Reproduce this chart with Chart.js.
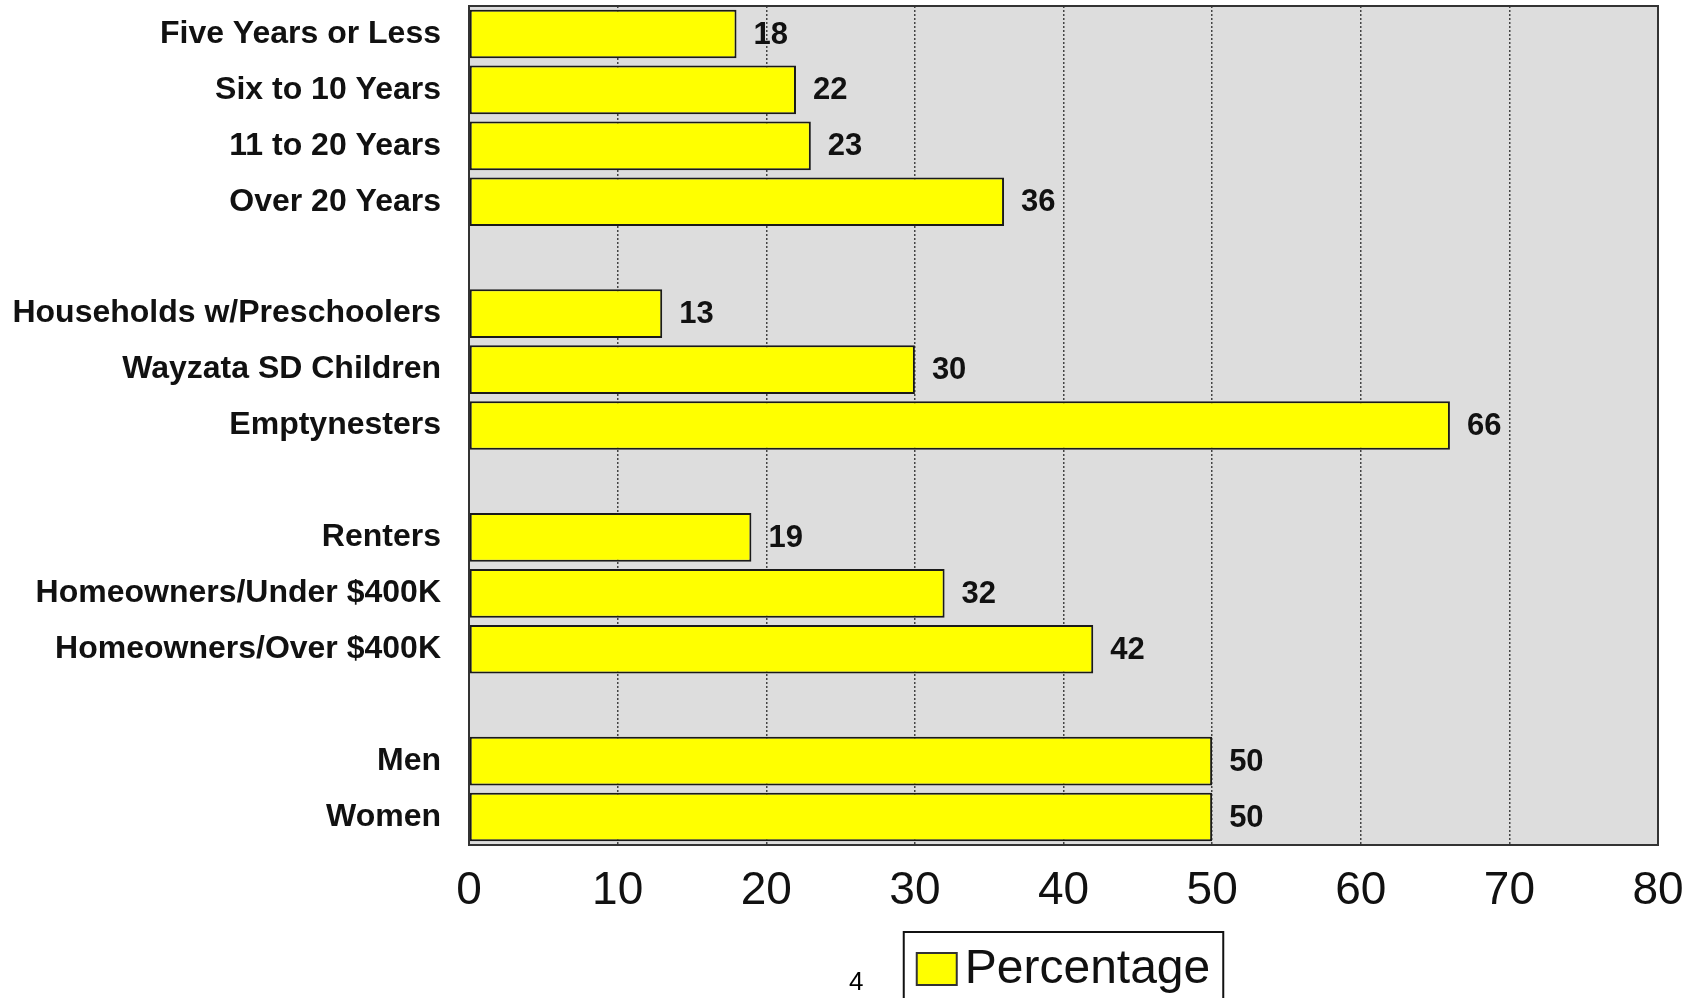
<!DOCTYPE html>
<html>
<head>
<meta charset="utf-8">
<script src="https://cdn.jsdelivr.net/npm/chart.js@4/dist/chart.umd.min.js"></script>
<style>
  body { margin: 0; background: #fff; }
  #wrap { position: relative; width: 1700px; height: 998px; }
  #page { position: absolute; left: 849px; top: 966px; font: 26px "Liberation Sans", Arial, sans-serif; color: #000; }
</style>
</head>
<body>
<div id="wrap">
  <canvas id="chart" width="1700" height="998"></canvas>
  <div id="page">4</div>
</div>
<script>
// categories, blank entries are the gaps between groups
const categories = [
    "Five Years or Less", "Six to 10 Years", "11 to 20 Years", "Over 20 Years", "",
    "Households w/Preschoolers", "Wayzata SD Children", "Emptynesters", "",
    "Renters", "Homeowners/Under $400K", "Homeowners/Over $400K", "",
    "Men", "Women"
];
const percentages = [18, 22, 23, 36, null, 13, 30, 66, null, 19, 32, 42, null, 50, 50];
const seriesName = "Percentage";
const xMin = 0;
const xMax = 80;
const xStep = 10;

const FONT = "'Liberation Sans', Arial, sans-serif";

const plotBackground = {
    id: "plotBackground",
    beforeDraw(chart) {
        const { ctx, chartArea: a } = chart;
        ctx.save();
        ctx.fillStyle = "#dddddd";
        ctx.fillRect(a.left, a.top, a.right - a.left, a.bottom - a.top);
        ctx.restore();
    },
    afterDraw(chart) {
        const { ctx, chartArea: a } = chart;
        ctx.save();
        ctx.strokeStyle = "#333";
        ctx.lineWidth = 2;
        ctx.strokeRect(a.left, a.top, a.right - a.left, a.bottom - a.top);
        ctx.restore();
    }
};

const valueLabels = {
    id: "valueLabels",
    afterDatasetsDraw(chart) {
        const ctx = chart.ctx;
        const meta = chart.getDatasetMeta(0);
        ctx.save();
        ctx.font = "bold 31px " + FONT;
        ctx.fillStyle = "#111";
        ctx.textAlign = "left";
        ctx.textBaseline = "middle";
        meta.data.forEach((bar, i) => {
            const v = percentages[i];
            if (v == null) return;
            ctx.fillText(String(v), bar.x + 17, bar.y + 1);
        });
        ctx.restore();
    }
};

const boxedLegend = {
    id: "boxedLegend",
    afterDraw(chart) {
        const { ctx, chartArea: a } = chart;
        const ds = chart.data.datasets[0];
        ctx.save();
        ctx.font = "48px " + FONT;
        const textW = ctx.measureText(ds.label).width;
        const sw = 40, gap = 8, pad = 13;
        const boxW = pad + sw + gap + textW + pad;
        const cx = (a.left + a.right) / 2;
        const x0 = cx - boxW / 2;
        const y0 = 932;
        ctx.fillStyle = "#fff";
        ctx.fillRect(x0, y0, boxW, 80);
        ctx.strokeStyle = "#111";
        ctx.lineWidth = 2;
        ctx.strokeRect(x0, y0, boxW, 80);
        ctx.fillStyle = ds.backgroundColor;
        ctx.fillRect(x0 + pad, 953, sw, 32);
        ctx.strokeStyle = "#333";
        ctx.lineWidth = 2;
        ctx.strokeRect(x0 + pad, 953, sw, 32);
        ctx.fillStyle = "#111";
        ctx.textBaseline = "middle";
        ctx.fillText(ds.label, x0 + pad + sw + gap, 970);
        ctx.restore();
    }
};

new Chart(document.getElementById("chart"), {
    type: "bar",
    data: {
        labels: categories,
        datasets: [{
            label: seriesName,
            data: percentages,
            backgroundColor: "#ffff00",
            borderColor: "#1a1a1a",
            borderWidth: 2,
            borderSkipped: false,
            barPercentage: 0.87,
            categoryPercentage: 1.0
        }]
    },
    options: {
        indexAxis: "y",
        responsive: false,
        animation: false,
        devicePixelRatio: 1,
        layout: { padding: { top: 6, right: 42, left: 0, bottom: 0 } },
        plugins: {
            legend: { display: false },
            tooltip: { enabled: false }
        },
        scales: {
            x: {
                min: xMin,
                max: xMax,
                ticks: {
                    stepSize: xStep,
                    padding: 19,
                    color: "#111",
                    font: { family: FONT, size: 46 }
                },
                grid: {
                    color: "#444",
                    lineWidth: 1.5,
                    drawTicks: false
                },
                border: { display: false, dash: [2, 2] },
                afterFit(scale) {
                    scale.height = 153;
                    scale.paddingLeft = 0;
                    scale.paddingRight = 0;
                }
            },
            y: {
                ticks: {
                    padding: 28,
                    color: "#111",
                    font: { family: FONT, size: 32, weight: "bold" },
                    autoSkip: false
                },
                grid: { display: false, drawTicks: false },
                border: { display: false },
                afterFit(scale) {
                    scale.width = 469;
                    scale.paddingTop = 0;
                    scale.paddingBottom = 0;
                }
            }
        }
    },
    plugins: [plotBackground, valueLabels, boxedLegend]
});
</script>
</body>
</html>
